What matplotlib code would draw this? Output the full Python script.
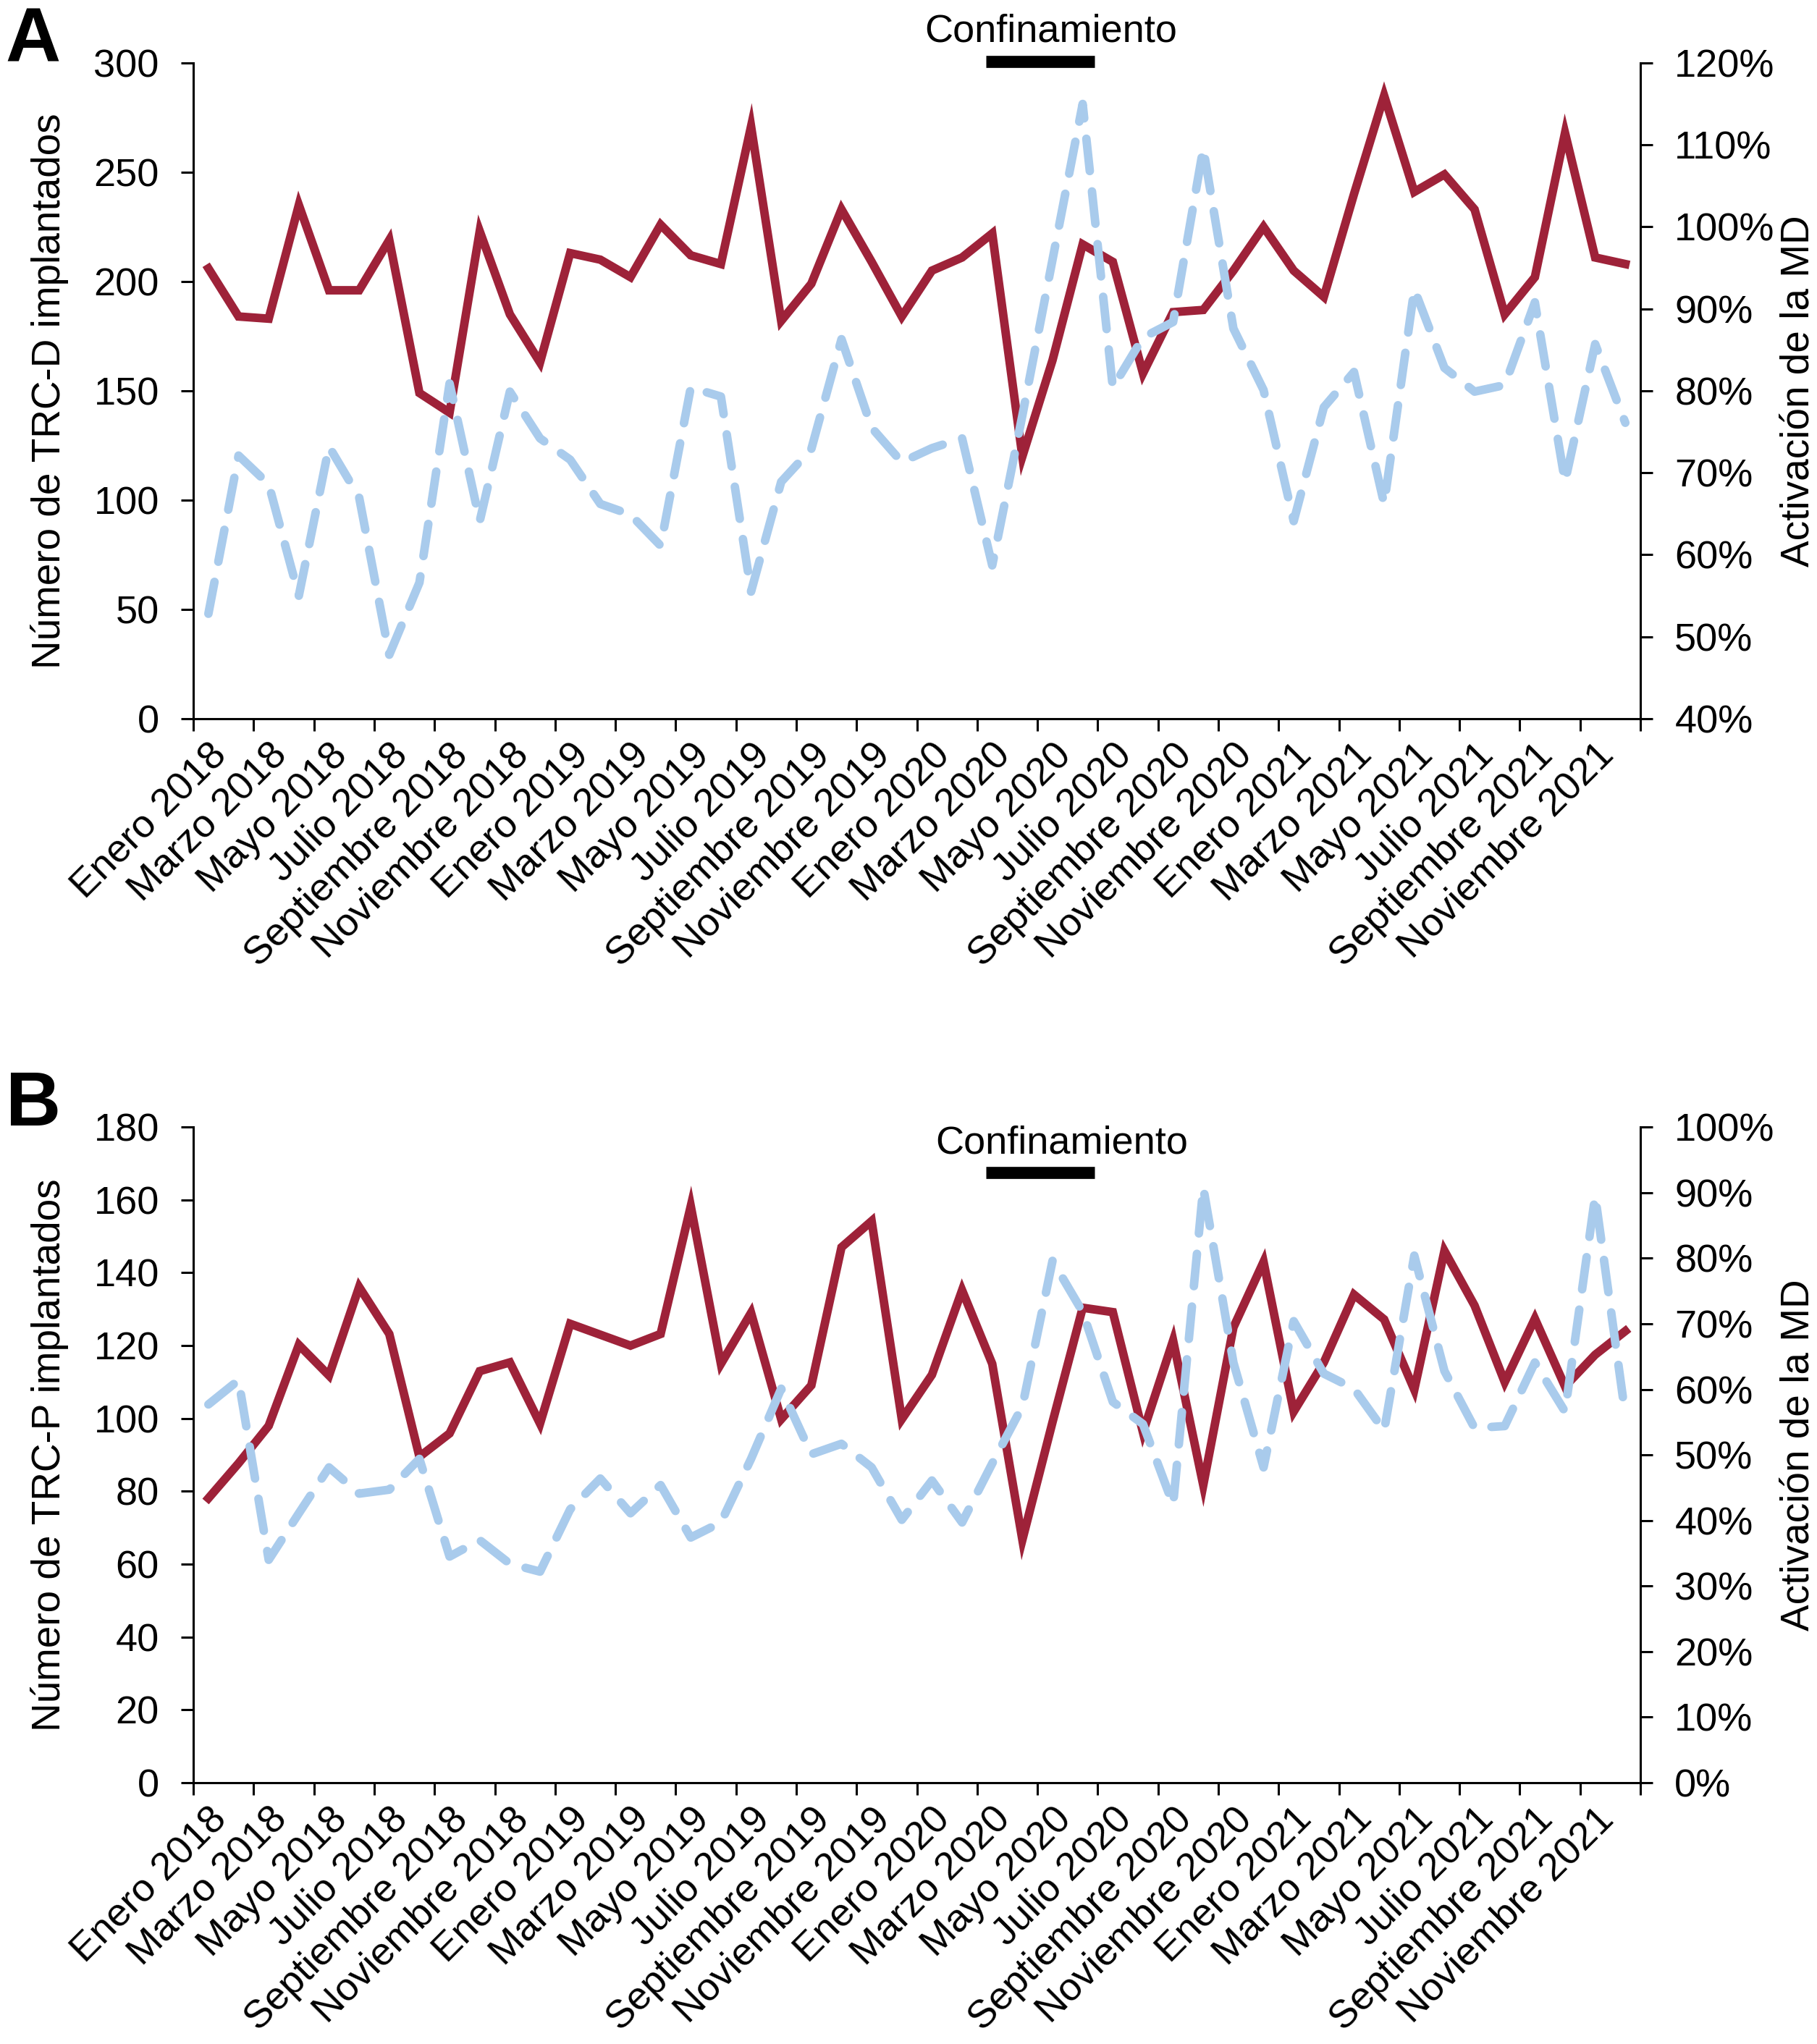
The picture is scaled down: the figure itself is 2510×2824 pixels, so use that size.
import numpy as np
import matplotlib
matplotlib.use("Agg")
import matplotlib.pyplot as plt
from matplotlib.ticker import FuncFormatter

plt.rcParams['font.family'] = ['Liberation Sans', 'DejaVu Sans']

month_names = ['Enero', 'Febrero', 'Marzo', 'Abril', 'Mayo', 'Junio', 'Julio',
               'Agosto', 'Septiembre', 'Octubre', 'Noviembre', 'Diciembre']
years = [2018, 2019, 2020, 2021]
months = ['{} {}'.format(m, y) for y in years for m in month_names]

# panel A: TRC-D implants (left) and remote monitoring activation % (right)
trc_d = [206, 184, 183, 235, 196, 196, 219, 149, 140, 223, 185, 163,
         213, 210, 202, 226, 212, 208, 271, 182, 199, 233, 209, 184,
         205, 211, 222, 120, 164, 217, 209, 158, 186, 187, 205, 225,
         205, 193, 240, 285, 241, 249, 233, 185, 202, 268, 211, 208]
md_a = [52.8, 72.1, 68.6, 55.0, 73.2, 67.0, 47.8, 56.6, 80.9, 64.1, 79.9, 74.2,
        71.6, 66.2, 64.9, 61.1, 80.4, 79.3, 55.5, 68.9, 72.9, 86.3, 75.5, 71.3,
        73.0, 74.2, 58.7, 77.0, 96.0, 115.0, 80.4, 86.5, 88.4, 109.6, 87.6, 80.1,
        64.1, 78.0, 82.3, 66.2, 92.4, 82.8, 79.9, 80.7, 90.8, 68.9, 85.7, 76.1]

# panel B: TRC-P implants (left) and remote monitoring activation % (right)
trc_p = [78.1, 87.7, 98.0, 120.2, 111.8, 136.1, 123.2, 89.5, 95.9, 113.0, 115.4, 98.6,
         126.0, 123.0, 120.0, 123.2, 158.3, 115.0, 129.0, 99.8, 109.1, 147.0, 154.2, 99.8,
         112.0, 135.2, 115.0, 66.7, 99.0, 130.4, 129.2, 96.2, 121.4, 81.7, 125.0, 143.0,
         101.9, 115.4, 134.0, 127.2, 107.9, 146.0, 131.0, 110.0, 127.4, 108.8, 117.5, 124.0]
md_b = [57.7, 61.4, 34.0, 41.1, 48.1, 44.1, 44.7, 49.4, 34.5, 37.0, 33.4, 32.2,
        41.7, 46.4, 41.1, 45.4, 37.4, 39.7, 49.4, 60.1, 50.1, 51.7, 48.1, 40.1,
        46.1, 39.7, 48.7, 57.4, 79.6, 71.8, 58.1, 54.7, 42.4, 90.8, 64.1, 48.1,
        70.4, 62.4, 60.1, 53.7, 80.4, 62.8, 54.1, 54.4, 64.1, 56.6, 89.5, 56.1]

# lockdown period, in month index units
lockdown = (25.8, 29.4)

RED = '#9E2239'
BLUE = '#A9CBEC'
FS = 39

fig = plt.figure(figsize=(25.10, 28.24), dpi=100)


def draw_panel(rect, left_vals, right_vals, left_lim, left_step, right_lim,
               right_step, ylabel, letter, bar_y, text_y, text_x):
    ax = fig.add_axes(rect)
    x = np.arange(len(months))
    ax.plot(x, left_vals, color=RED, lw=8.5, solid_joinstyle='miter', zorder=3)
    ax.set_xlim(-0.5, len(months) - 0.5)
    ax.set_ylim(*left_lim)
    ax.set_yticks(np.arange(left_lim[0], left_lim[1] + 1, left_step))

    ax.set_xticks(x[::2])
    ax.set_xticklabels(months[::2], rotation=45, ha='right', va='top',
                       rotation_mode='anchor')
    ax.set_xticks(np.arange(-0.5, len(months), 2), minor=True)
    ax.tick_params(axis='x', which='major', length=0, pad=18, labelsize=FS)
    ax.tick_params(axis='x', which='minor', length=12, width=2.2)
    ax.tick_params(axis='y', length=12, width=2.2, pad=22, labelsize=FS)

    for s in ['top', 'right']:
        ax.spines[s].set_visible(False)
    for s in ['left', 'bottom']:
        ax.spines[s].set_linewidth(2.2)
    ax.set_ylabel(ylabel, fontsize=FS + 0.5)
    ax.yaxis.set_label_coords(-0.086, 0.5)

    ax2 = ax.twinx()
    l2, = ax2.plot(x, right_vals, color=BLUE, lw=8.5, dash_capstyle='round',
                   zorder=3)
    l2.set_dashes((3.8, 2.4))
    ax2.set_ylim(*right_lim)
    ax2.set_yticks(np.arange(right_lim[0], right_lim[1] + 1, right_step))
    ax2.yaxis.set_major_formatter(FuncFormatter(lambda v, p: '{:.0f}%'.format(v)))
    ax2.tick_params(axis='y', length=12, width=2.2, pad=22, labelsize=FS)
    for s in ['top', 'left', 'bottom']:
        ax2.spines[s].set_visible(False)
    ax2.spines['right'].set_linewidth(2.2)
    ax2.set_ylabel('Activación de la MD', fontsize=FS + 0.5)
    ax2.yaxis.set_label_coords(1.0964, 0.5)

    ax.plot(lockdown, [bar_y, bar_y], color='black', lw=12,
            solid_capstyle='butt', clip_on=False, zorder=4)
    ax.text(text_x, text_y, 'Confinamiento', fontsize=39, ha='center',
            va='baseline', clip_on=False)

    fig.text(0.003, rect[1] + rect[3] + 0.0007, letter, fontsize=76,
             fontweight='bold', ha='left', va='baseline')
    return ax, ax2


draw_panel([0.1064, 0.6484, 0.7964, 0.3208], trc_d, md_a, (0, 300), 50,
           (40, 120), 10, 'Número de TRC-D implantados', 'A',
           bar_y=300.5, text_y=309.6, text_x=27.95)
draw_panel([0.1064, 0.1278, 0.7964, 0.3208], trc_p, md_b, (0, 180), 20,
           (0, 100), 10, 'Número de TRC-P implantados', 'B',
           bar_y=167.6, text_y=172.8, text_x=28.3)

fig.savefig('out.png', dpi=100)
